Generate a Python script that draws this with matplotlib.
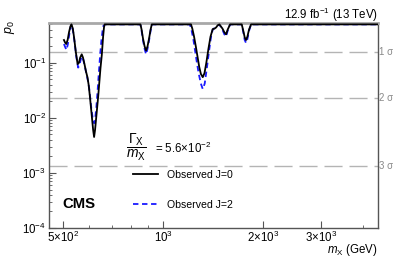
import matplotlib
matplotlib.use("Agg")
import matplotlib.pyplot as plt
import numpy as np

plt.rcParams['font.family'] = ['Liberation Sans', 'DejaVu Sans']
plt.rcParams['mathtext.fontset'] = 'custom'
plt.rcParams['mathtext.rm'] = 'Liberation Sans'
plt.rcParams['mathtext.it'] = 'Liberation Sans:italic'
plt.rcParams['mathtext.bf'] = 'Liberation Sans:bold'

# ---- data ----
mass_j0 = [503, 507, 511, 516, 521, 526, 530, 535, 540, 546, 553, 558, 563, 569,
           574, 580, 586, 592, 597, 602, 607, 612, 616, 620, 624, 628, 633, 638,
           643, 648, 654, 660, 664, 667,
           855, 862, 870, 880, 889, 898, 908, 917, 925,
           1214, 1225, 1240, 1255, 1270, 1285, 1300, 1317, 1333, 1350, 1370, 1390,
           1411, 1430, 1445, 1460, 1478, 1510, 1530, 1548, 1565, 1592,
           1726, 1745, 1762, 1778, 1795, 1815, 1841, 4440]
p0_j0 = [0.26, 0.235, 0.22, 0.26, 0.36, 0.46, 0.5, 0.42, 0.28, 0.16, 0.095, 0.1,
         0.125, 0.143, 0.125, 0.095, 0.07, 0.055, 0.04, 0.025, 0.015, 0.009, 0.006,
         0.0045, 0.006, 0.009, 0.015, 0.025, 0.045, 0.08, 0.139, 0.3, 0.44, 0.5,
         0.5, 0.4, 0.28, 0.2, 0.167, 0.2, 0.28, 0.4, 0.5,
         0.5, 0.42, 0.3, 0.2, 0.13, 0.085, 0.063, 0.055, 0.065, 0.1, 0.18, 0.3,
         0.41, 0.42, 0.44, 0.48, 0.5, 0.42, 0.36, 0.33, 0.4, 0.5,
         0.5, 0.38, 0.29, 0.26, 0.3, 0.4, 0.5, 0.5]

mass_j2 = [503, 508, 512, 517, 522, 527, 530, 535, 541, 548, 555, 560, 565, 570,
           575, 581, 587, 593, 599, 604, 609, 614, 620, 625, 630, 635, 640, 646,
           652, 658, 663,
           855, 862, 870, 880, 889, 898, 908, 917, 925,
           1205, 1220, 1235, 1250, 1265, 1280, 1300, 1317, 1335, 1355, 1375, 1395,
           1411, 1430, 1450, 1478, 1510, 1530, 1548, 1565, 1592,
           1726, 1745, 1762, 1778, 1795, 1815, 1841, 4440]
p0_j2 = [0.22, 0.19, 0.172, 0.22, 0.33, 0.45, 0.5, 0.4, 0.25, 0.13, 0.082, 0.09,
         0.115, 0.13, 0.115, 0.088, 0.066, 0.05, 0.035, 0.022, 0.014, 0.01, 0.008,
         0.01, 0.016, 0.03, 0.06, 0.13, 0.25, 0.4, 0.5,
         0.5, 0.38, 0.26, 0.18, 0.143, 0.18, 0.26, 0.38, 0.5,
         0.5, 0.38, 0.26, 0.16, 0.1, 0.065, 0.042, 0.0335, 0.042, 0.08, 0.16, 0.3,
         0.4, 0.43, 0.47, 0.5, 0.4, 0.33, 0.3, 0.38, 0.5,
         0.5, 0.36, 0.26, 0.23, 0.27, 0.38, 0.5, 0.5]

sigma_labels = ['1 σ', '2 σ', '3 σ']
sigma_p0 = [0.1587, 0.02275, 0.00135]

xtick_vals = [500, 1000, 2000, 3000]
xtick_labels = [r'$5{\times}10^{2}$', r'$10^{3}$', r'$2{\times}10^{3}$', r'$3{\times}10^{3}$']
ytick_vals = [1e-4, 1e-3, 1e-2, 1e-1]
ytick_labels = [r'$10^{-4}$', r'$10^{-3}$', r'$10^{-2}$', r'$10^{-1}$']

# ---- figure ----
fig = plt.figure(figsize=(4.07, 2.60), dpi=100)
ax = fig.add_axes([49/407, 1-228/260, (378-49)/407, (228-23)/260])
ax.set_xscale('log')
ax.set_yscale('log')
ax.set_xlim(453.5, 4440)
ax.set_ylim(1e-4, 0.53)

for p in sigma_p0:
    ax.axhline(p, color='#b4b4b4', lw=1.0, dashes=(13, 5), zorder=1)
for lab, p in zip(sigma_labels, sigma_p0):
    ax.text(1.003, p, lab, transform=ax.get_yaxis_transform(), color='#888888',
            fontsize=7, va='center', ha='left')

l0, = ax.plot(mass_j0, p0_j0, color='black', lw=1.3, zorder=3)
l2, = ax.plot(mass_j2, p0_j2, color='#1a1aff', lw=1.3, dashes=(3, 2), zorder=2)

ax.set_xticks(xtick_vals)
ax.set_xticklabels(xtick_labels)
ax.set_xticks([600, 700, 800, 900, 4000], minor=True)
ax.xaxis.set_minor_formatter(matplotlib.ticker.NullFormatter())
ax.set_yticks(ytick_vals)
ax.set_yticklabels(ytick_labels)
ax.yaxis.set_minor_locator(matplotlib.ticker.LogLocator(base=10, subs=np.arange(2, 10)))
ax.yaxis.set_minor_formatter(matplotlib.ticker.NullFormatter())

ax.tick_params(axis='both', which='both', direction='in', top=False, right=False,
               labelsize=8.3, color='#555555')
ax.tick_params(axis='x', which='both', pad=1)
ax.tick_params(axis='y', which='both', pad=2)
ax.tick_params(axis='both', which='major', length=5)
ax.tick_params(axis='both', which='minor', length=2.5)

for s in ['left', 'bottom', 'right']:
    ax.spines[s].set_color('#555555')
    ax.spines[s].set_linewidth(1.0)
ax.spines['top'].set_color('#a8a8a8')
ax.spines['top'].set_linewidth(2.0)

fig.text(10/407, 1-20/260, r'$p_{0}$', rotation=90, fontsize=9, ha='center', va='top')
fig.text(378/407, 1-253/260, r'$m_{\rm X}$ (GeV)', fontsize=8.3, ha='right', va='baseline')
fig.text(378/407, 1-19/260, r'12.9 fb$^{-1}$ (13 TeV)', fontsize=8.3, ha='right', va='baseline')

fig.text(62/407, 1-208/260, 'CMS', fontsize=10.7, fontweight='bold',
         ha='left', va='baseline')
fig.text(126/407, 1-147/260, r'$\dfrac{\mathit{\Gamma}_{\rm X}}{m_{\rm X}}$',
         fontsize=10, ha='left', va='center')
fig.text(155/407, 1-148/260, r'= 5.6$\times$10$^{-2}$',
         fontsize=8.3, ha='left', va='center')

leg = ax.legend([l0, l2], ['Observed J=0', 'Observed J=2'], loc='upper left',
                bbox_to_anchor=(133/407, 1-170/260), bbox_transform=fig.transFigure,
                frameon=False, fontsize=7.6, handlelength=2.4, labelspacing=1.9,
                handletextpad=0.8, borderpad=0, borderaxespad=0)

fig.savefig('out.png', dpi=100)
